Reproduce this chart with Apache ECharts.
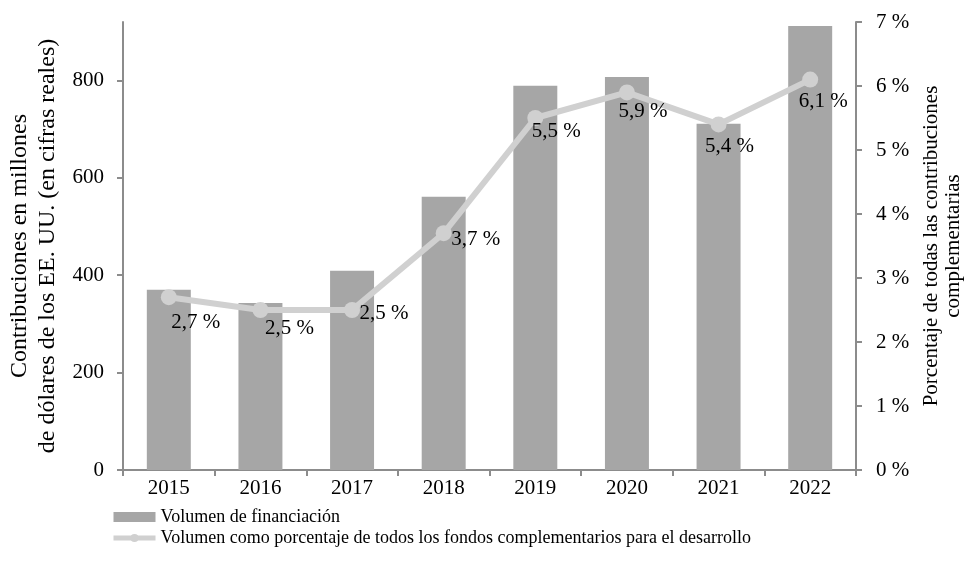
<!DOCTYPE html>
<html>
<head>
<meta charset="utf-8">
<script src="https://cdn.jsdelivr.net/npm/echarts@6/dist/echarts.min.js"></script>
<style>
html,body{margin:0;padding:0;background:#fff;}
#main{width:966px;height:573px;}
</style>
</head>
<body>
<div id="main"></div>
<script>
// datos
var years = ['2015', '2016', '2017', '2018', '2019', '2020', '2021', '2022'];
var volumen = [370, 343, 409, 561, 789, 807, 711, 912];
var porcentaje = [2.7, 2.5, 2.5, 3.7, 5.5, 5.9, 5.4, 6.1];
var leftTicks = [0, 200, 400, 600, 800];

var font = 'Liberation Serif';
var axisColor = '#8c8c8c';

// desplazamiento de cada etiqueta respecto a su punto
var labelOffsets = [[27, 25], [29, 18], [32, 3], [32, 6], [21, 13], [16, 19], [11, 22], [13, 22]];

var myChart = echarts.init(document.getElementById('main'));

var option = {
    backgroundColor: '#fff',
    animation: false,
    textStyle: { fontFamily: font, color: '#000' },
    grid: { left: 123, right: 110, top: 22, bottom: 103, outerBoundsMode: 'none', containLabel: false },
    legend: {
        orient: 'vertical',
        left: 106,
        top: 503,
        itemGap: 3,
        itemWidth: 42,
        itemHeight: 10,
        textStyle: { fontFamily: font, fontSize: 18, color: '#000' },
        data: [
            { name: 'Volumen de financiación', icon: 'rect' },
            {
                name: 'Volumen como porcentaje de todos los fondos complementarios para el desarrollo',
                lineStyle: { width: 5, color: '#d0d0d0' }
            }
        ]
    },
    xAxis: {
        type: 'category',
        data: years,
        axisLine: { lineStyle: { color: axisColor, width: 2 } },
        axisTick: { show: true, length: 6, lineStyle: { color: axisColor, width: 2 } },
        axisLabel: { fontFamily: font, fontSize: 21, color: '#000', margin: 8 }
    },
    yAxis: [
        {
            type: 'value',
            min: 0,
            max: 920,
            interval: 200,
            name: 'Contribuciones en millones\nde dólares de los EE. UU. (en cifras reales)',
            nameLocation: 'middle',
            nameRotate: 90,
            nameGap: 59,
            nameTextStyle: { fontFamily: font, fontSize: 24, color: '#000', lineHeight: 28 },
            splitLine: { show: false },
            axisLine: { show: true, lineStyle: { color: axisColor, width: 2 } },
            axisTick: { show: true, length: 6, customValues: leftTicks, lineStyle: { color: axisColor, width: 2 } },
            axisLabel: { fontFamily: font, fontSize: 21, color: '#000', margin: 19, customValues: leftTicks }
        },
        {
            type: 'value',
            min: 0,
            max: 7,
            interval: 1,
            position: 'right',
            name: 'Porcentaje de todas las contribuciones\ncomplementarias',
            nameLocation: 'middle',
            nameRotate: 90,
            nameGap: 63,
            nameTextStyle: { fontFamily: font, fontSize: 21, color: '#000', lineHeight: 22 },
            splitLine: { show: false },
            axisLine: { show: true, lineStyle: { color: axisColor, width: 2 } },
            axisTick: { show: true, length: 6, lineStyle: { color: axisColor, width: 2 } },
            axisLabel: {
                fontFamily: font, fontSize: 21, color: '#000', margin: 20,
                formatter: function (v) { return v + ' %'; }
            }
        }
    ],
    series: [
        {
            name: 'Volumen de financiación',
            type: 'bar',
            yAxisIndex: 0,
            barWidth: '48%',
            itemStyle: { color: '#a6a6a6' },
            data: volumen
        },
        {
            name: 'Volumen como porcentaje de todos los fondos complementarios para el desarrollo',
            type: 'line',
            yAxisIndex: 1,
            symbol: 'circle',
            symbolSize: 16,
            lineStyle: { color: '#d0d0d0', width: 6 },
            itemStyle: { color: '#d0d0d0' },
            label: {
                show: true,
                fontFamily: font,
                fontSize: 21,
                color: '#000',
                formatter: function (p) { return p.value.toFixed(1).replace('.', ',') + ' %'; }
            },
            data: porcentaje.map(function (v, i) {
                return { value: v, label: { position: 'inside', offset: labelOffsets[i] } };
            })
        }
    ]
};

myChart.setOption(option);
</script>
</body>
</html>
